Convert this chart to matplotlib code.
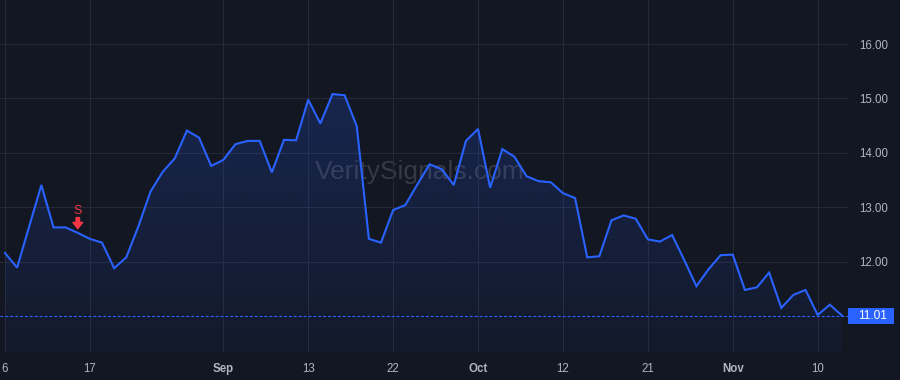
import numpy as np
import matplotlib
matplotlib.use('Agg')
import matplotlib.pyplot as plt
import matplotlib.patches as mpatches
import matplotlib.transforms as mtransforms

plt.rcParams['font.family'] = ['Liberation Sans', 'DejaVu Sans']

# daily closes
prices = [12.16, 11.89, 12.65, 13.41, 12.63, 12.63, 12.53, 12.42, 12.35, 11.88,
          12.08, 12.65, 13.29, 13.65, 13.90, 14.41, 14.28, 13.76, 13.87, 14.16,
          14.22, 14.22, 13.64, 14.24, 14.23, 14.98, 14.54, 15.08, 15.06, 14.49,
          12.42, 12.35, 12.95, 13.04, 13.42, 13.79, 13.70, 13.41, 14.22, 14.44,
          13.36, 14.07, 13.93, 13.57, 13.48, 13.46, 13.26, 13.17, 12.08, 12.10,
          12.76, 12.85, 12.79, 12.41, 12.37, 12.49, 12.03, 11.55, 11.86, 12.12,
          12.13, 11.48, 11.53, 11.80, 11.15, 11.39, 11.48, 11.02, 11.21, 11.01]
tick_pos = [0, 7, 18, 25, 32, 39, 46, 53, 60, 67]
tick_labels = ['6', '17', 'Sep', '13', '22', 'Oct', '12', '21', 'Nov', '10']
month_labels = ['Sep', 'Oct', 'Nov']
price_ticks = [12, 13, 14, 15, 16]
signal_idx = 6
signal_text = 'S'

bg = '#131722'
grid = '#252935'
line_c = '#2962FF'
txt = '#b2b5be'
red = '#F23645'

x = np.arange(len(prices))
last = prices[-1]
ymin, ymax = 10.34, 16.81

fig = plt.figure(figsize=(9, 3.8), dpi=100, facecolor=bg)
ax = fig.add_axes([0, 1 - 352 / 380, 848 / 900, 352 / 380])
ax.set_facecolor(bg)
ax.set_xlim(-0.41, 69.5)
ax.set_ylim(ymin, ymax)

# gradient area under the line
fill = ax.fill_between(x, prices, ymin, color='none', lw=0)
grad = np.zeros((256, 1, 4))
grad[:, 0, 0] = 41 / 255
grad[:, 0, 1] = 98 / 255
grad[:, 0, 2] = 1.0
grad[:, 0, 3] = np.linspace(0.20, 0.04, 256)
im = ax.imshow(grad, extent=[x[0], x[-1], ymin, max(prices)], aspect='auto',
               origin='upper', zorder=1)
im.set_clip_path(fill.get_paths()[0], transform=ax.transData)

ax.plot(x, prices, color=line_c, lw=1.5, zorder=3, solid_joinstyle='miter')
ax.axhline(last, color=line_c, lw=0.8, linestyle=(0, (2.6, 1.8)), zorder=2)

ax.set_xticks(tick_pos)
ax.set_xticklabels(tick_labels)
for lab in ax.get_xticklabels():
    if lab.get_text() in month_labels:
        lab.set_fontweight('bold')
ax.set_yticks(price_ticks)
ax.set_yticklabels([f'{p:.2f}' for p in price_ticks])
ax.yaxis.tick_right()
ax.tick_params(axis='x', length=0, pad=8, labelsize=8.3, labelcolor=txt)
ax.tick_params(axis='y', length=0, pad=8, labelsize=8.3, labelcolor=txt)
ax.grid(True, color=grid, lw=0.8)
ax.set_axisbelow(True)
for s in ax.spines.values():
    s.set_visible(False)

# watermark
ax.text(0.495, 0.512, 'VeritySignals.com', transform=ax.transAxes,
        ha='center', va='center', fontsize=19, color='#787b86', alpha=0.35,
        zorder=0.5)

# sell signal marker
tip = mtransforms.offset_copy(ax.transData, fig=fig, x=0, y=3, units='points')
ax.annotate('', xy=(signal_idx, prices[signal_idx]), xycoords=tip,
            xytext=(0, 8), textcoords='offset points',
            arrowprops=dict(facecolor=red, edgecolor=red, width=2.5,
                            headwidth=7, headlength=4.5), zorder=4)
ax.annotate(signal_text, xy=(signal_idx, prices[signal_idx]),
            xytext=(0, 16), textcoords='offset points', ha='center',
            va='center', color=red, fontsize=9, zorder=4)

# last price label on the price scale
fig.canvas.draw()
y_disp = ax.transData.transform((0, last))[1]
box = mpatches.Rectangle((848, y_disp - 8), 46, 16, facecolor=line_c,
                         edgecolor='none', transform=mtransforms.IdentityTransform())
fig.patches.append(box)
fig.text(872, y_disp, f'{last:.2f}', transform=mtransforms.IdentityTransform(),
         ha='center', va='center', color='white', fontsize=8.6)

fig.savefig('out.png', dpi=100, facecolor=bg)
